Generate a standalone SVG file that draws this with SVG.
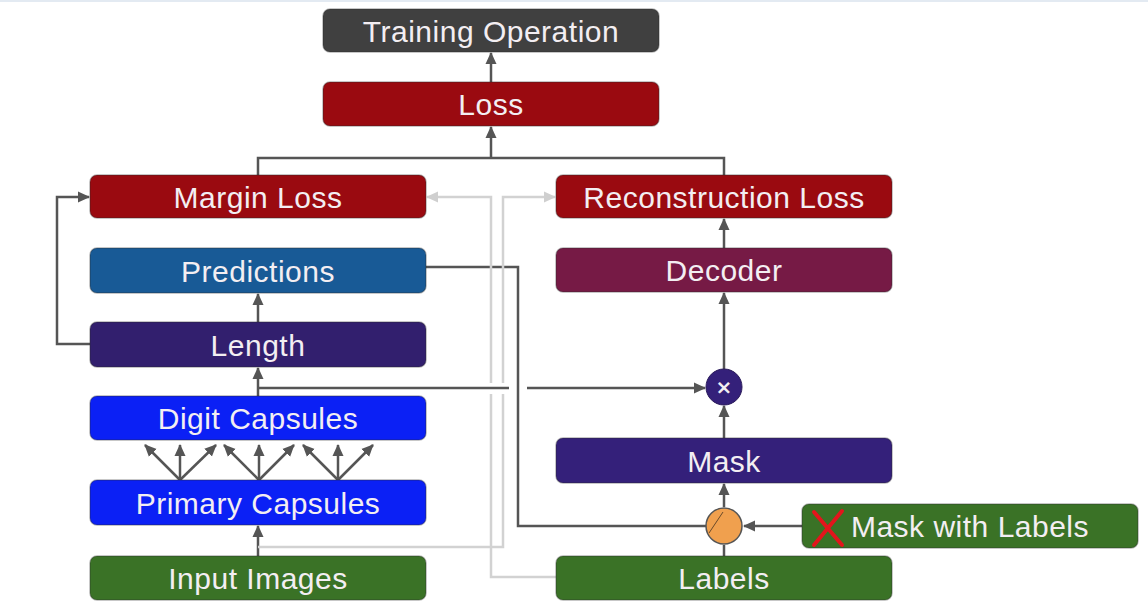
<svg xmlns="http://www.w3.org/2000/svg" width="1148" height="610" viewBox="0 0 1148 610">
<style>
.box{stroke:#2a2a2a;stroke-opacity:0.35;stroke-width:1.5}
.lbl{font-family:"Liberation Sans",Arial,sans-serif;font-size:30px;letter-spacing:0.5px;fill:#f3eef2;text-anchor:middle}
.dk{fill:none;stroke:#555;stroke-width:2.5}
.lt{fill:none;stroke:#d2d2d2;stroke-width:2.5}
</style>
<defs>
<marker id="ad" markerUnits="userSpaceOnUse" markerWidth="12" markerHeight="12" refX="11" refY="6" orient="auto"><path d="M0,0.5 L12,6 L0,11.5 z" fill="#555"/></marker>
<marker id="al" markerUnits="userSpaceOnUse" markerWidth="12" markerHeight="12" refX="11" refY="6" orient="auto"><path d="M0,0.5 L12,6 L0,11.5 z" fill="#cfcfcf"/></marker>
</defs>
<rect x="0" y="0" width="1148" height="610" fill="#fff"/>
<rect x="0" y="0" width="1148" height="2" fill="#e3eaf2"/>

<g id="connectors">
<path class="dk" d="M491,82 V53" marker-end="url(#ad)"/>
<path class="dk" d="M258,175 V158 H724 V175"/>
<path class="dk" d="M491,158 V127" marker-end="url(#ad)"/>
<path class="dk" d="M90,344 H57 V197 H89" marker-end="url(#ad)"/>
<path class="dk" d="M258,322 V294" marker-end="url(#ad)"/>
<path class="dk" d="M258,396 V368" marker-end="url(#ad)"/>
<path class="dk" d="M258,388 H509"/>
<path class="dk" d="M527,388 H705" marker-end="url(#ad)"/>
<path class="dk" d="M426,267 H518 V526 H706"/>
<path class="dk" d="M802,526 H744" marker-end="url(#ad)"/>
<path class="dk" d="M724,556 V545"/>
<path class="dk" d="M724,507 V484" marker-end="url(#ad)"/>
<path class="dk" d="M724,438 V406" marker-end="url(#ad)"/>
<path class="dk" d="M724,369 V293" marker-end="url(#ad)"/>
<path class="dk" d="M724,248 V219" marker-end="url(#ad)"/>
<path class="dk" d="M180,480 L145,445" marker-end="url(#ad)"/>
<path class="dk" d="M180,480 V445" marker-end="url(#ad)"/>
<path class="dk" d="M180,480 L216,445" marker-end="url(#ad)"/>
<path class="dk" d="M259,480 L224,445" marker-end="url(#ad)"/>
<path class="dk" d="M259,480 V445" marker-end="url(#ad)"/>
<path class="dk" d="M259,480 L294,445" marker-end="url(#ad)"/>
<path class="dk" d="M338,480 L303,445" marker-end="url(#ad)"/>
<path class="dk" d="M338,480 V445" marker-end="url(#ad)"/>
<path class="dk" d="M338,480 L373,445" marker-end="url(#ad)"/>
<path class="dk" d="M258,556 V526" marker-end="url(#ad)"/>
<path class="lt" d="M258,547 H503 V394"/>
<path class="lt" d="M503,383 V197 H555" marker-end="url(#al)"/>
<path class="lt" d="M556,577 H491 V394"/>
<path class="lt" d="M491,383 V197 H427" marker-end="url(#al)"/>
</g>

<g id="training-operation"><rect class="box" x="323" y="9" width="336" height="43" rx="7" fill="#404040"/><text class="lbl" x="491" y="42">Training Operation</text></g>
<g id="loss"><rect class="box" x="323" y="82" width="336" height="44" rx="7" fill="#9a0a10"/><text class="lbl" x="491" y="115">Loss</text></g>
<g id="margin-loss"><rect class="box" x="90" y="175" width="336" height="43" rx="7" fill="#9a0a10"/><text class="lbl" x="258" y="208">Margin Loss</text></g>
<g id="reconstruction-loss"><rect class="box" x="556" y="175" width="336" height="43" rx="7" fill="#9a0a10"/><text class="lbl" x="724" y="208">Reconstruction Loss</text></g>
<g id="predictions"><rect class="box" x="90" y="248" width="336" height="45" rx="7" fill="#185a96"/><text class="lbl" x="258" y="282">Predictions</text></g>
<g id="decoder"><rect class="box" x="556" y="248" width="336" height="44" rx="7" fill="#761a45"/><text class="lbl" x="724" y="281">Decoder</text></g>
<g id="length"><rect class="box" x="90" y="322" width="336" height="45" rx="7" fill="#321f6e"/><text class="lbl" x="258" y="356">Length</text></g>
<g id="digit-capsules"><rect class="box" x="90" y="396" width="336" height="44" rx="7" fill="#0b20f5"/><text class="lbl" x="258" y="429">Digit Capsules</text></g>
<g id="mask"><rect class="box" x="556" y="438" width="336" height="45" rx="7" fill="#34207a"/><text class="lbl" x="724" y="472">Mask</text></g>
<g id="primary-capsules"><rect class="box" x="90" y="480" width="336" height="45" rx="7" fill="#0b20f5"/><text class="lbl" x="258" y="514">Primary Capsules</text></g>
<g id="input-images"><rect class="box" x="90" y="556" width="336" height="44" rx="7" fill="#3a7226"/><text class="lbl" x="258" y="589">Input Images</text></g>
<g id="labels"><rect class="box" x="556" y="556" width="336" height="44" rx="7" fill="#3a7226"/><text class="lbl" x="724" y="589">Labels</text></g>
<g id="mask-with-labels"><rect class="box" x="802" y="504" width="336" height="44" rx="7" fill="#3a7226"/>
<path d="M814,512 L842,545 M842,511 L814,545" stroke="#e3151c" stroke-width="4" fill="none" stroke-linecap="round"/>
<text class="lbl" x="970" y="537">Mask with Labels</text></g>
<g id="multiply"><circle cx="724" cy="387" r="18" fill="#34207a" stroke="#2a1a5a" stroke-width="1"/><text x="724" y="394" font-family="'DejaVu Sans',sans-serif" font-size="20" font-weight="bold" fill="#f3eef2" text-anchor="middle">×</text></g>
<g id="switch"><circle cx="724" cy="526" r="18" fill="#f0a04e" stroke="#555" stroke-width="1.5"/><path d="M709,533 L723,512" stroke="#6a4a2a" stroke-width="1" fill="none"/></g>
</svg>
